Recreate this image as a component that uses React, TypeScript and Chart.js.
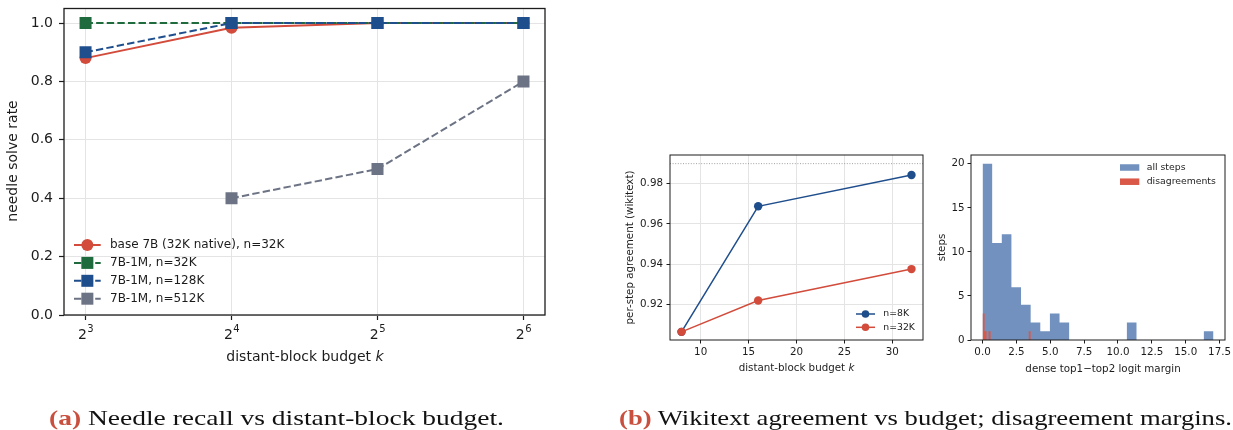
import React, { useEffect, useRef } from 'react';
import { Chart, registerables } from 'chart.js';

Chart.register(...registerables);

// ---------------- Panel (a): needle recall vs distant-block budget ----------------
const BUDGETS_A = [8, 16, 32, 64];
const BUDGET_TICK_BASE = '2';
const BUDGET_TICK_EXPONENTS = ['3', '4', '5', '6'];
const BASE_7B_N32K = [0.88, 0.984, 1.0, 1.0];
const M1_N32K = [1.0, 1.0, 1.0, 1.0];
const M1_N128K = [0.9, 1.0, 1.0, 1.0];
const M1_N512K = [null, 0.4, 0.5, 0.8];
const SERIES_A_LABELS = [
  'base 7B (32K native), n=32K',
  '7B-1M, n=32K',
  '7B-1M, n=128K',
  '7B-1M, n=512K',
];
const NEEDLE_Y_TICKS = [0, 0.2, 0.4, 0.6, 0.8, 1.0];
const NEEDLE_X_LIMITS = [7.222, 70.89];
const NEEDLE_Y_LIMITS = [0, 1.05];

// ---------------- Panel (b) left: wikitext agreement ----------------
const BUDGETS_B = [8, 16, 32];
const AGREE_N8K = [0.90625, 0.96875, 0.984375];
const AGREE_N32K = [0.90625, 0.921875, 0.9375];
const AGREE_REF = 0.99;
const AGREE_LABELS = ['n=8K', 'n=32K'];
const AGREE_X_TICKS = [10, 15, 20, 25, 30];
const AGREE_Y_TICKS = [0.92, 0.94, 0.96, 0.98];
const AGREE_X_LIMITS = [6.8, 33.2];
const AGREE_Y_LIMITS = [0.9022, 0.9943];

// ---------------- Panel (b) right: margin histogram ----------------
const ALL_STEPS_RANGE = [0, 17.05];
const ALL_STEPS_COUNTS = [20, 11, 12, 6, 4, 2, 1, 3, 2, 0, 0, 0, 0, 0, 0, 2, 0, 0, 0, 0, 0, 0, 0, 1];
const DISAGREE_RANGE = [0, 3.56];
const DISAGREE_COUNTS = [3, 1, 0, 1, 0, 0, 0, 0, 0, 0, 0, 0, 0, 0, 0, 0, 0, 0, 0, 0, 0, 0, 0, 1];
const HIST_LABELS = ['all steps', 'disagreements'];
const MARGIN_X_TICKS = [0, 2.5, 5, 7.5, 10, 12.5, 15, 17.5];
const STEPS_Y_TICKS = [0, 5, 10, 15, 20];
const MARGIN_X_LIMITS = [-0.8525, 17.9];
const STEPS_Y_LIMITS = [0, 21];

const CAPTION_A = ['(a)', ' Needle recall vs distant-block budget.'];
const CAPTION_B = ['(b)', ' Wikitext agreement vs budget; disagreement margins.'];

// ---------------- styling ----------------
const FONT = "'DejaVu Sans', sans-serif";
const INK = '#1c1c1c';
const GRID = '#e4e4e4';
const RED = '#d24b3b';
const GREEN = '#1f6b3d';
const BLUE = '#1f4e8c';
const GREY = '#6c7384';
const HIST_BLUE = '#7291be';
const HIST_RED = '#d95848';
const CAPTION_RED = '#c9503f';

type LegendItem = {
  label: string;
  color: string;
  kind: 'line' | 'patch';
  marker?: 'circle' | 'rect';
  markerSize?: number;
  dash?: number[];
  lineWidth?: number;
};

type DecorCfg = {
  frameWidth: number;
  xTitle: { parts: [string, boolean][]; cx: number; cy: number; size: number };
  yTitle: { text: string; cx: number; cy: number; size: number };
  legend: { x0: number; y0: number; dy: number; handleLen: number; patchH?: number; textX: number; size: number; items: LegendItem[] };
  under?: (chart: any) => void;
  over?: (chart: any) => void;
};

function makeDecor(cfg: DecorCfg) {
  return {
    id: 'decor',
    beforeDatasetsDraw(chart: any) {
      if (cfg.under) cfg.under(chart);
    },
    afterDraw(chart: any) {
      const { ctx, chartArea: a } = chart;
      ctx.save();
      ctx.strokeStyle = INK;
      ctx.lineWidth = cfg.frameWidth;
      ctx.strokeRect(a.left, a.top, a.right - a.left, a.bottom - a.top);

      // x title (with optional italic parts)
      ctx.fillStyle = INK;
      ctx.textBaseline = 'middle';
      ctx.textAlign = 'left';
      const fontFor = (it: boolean) => `${it ? 'italic ' : ''}${cfg.xTitle.size}px ${FONT}`;
      const widths = cfg.xTitle.parts.map(([t, it]) => {
        ctx.font = fontFor(it);
        return ctx.measureText(t).width;
      });
      const total = widths.reduce((s, w) => s + w, 0);
      let x = cfg.xTitle.cx - total / 2;
      cfg.xTitle.parts.forEach(([t, it], i) => {
        ctx.font = fontFor(it);
        ctx.fillText(t, x, cfg.xTitle.cy);
        x += widths[i];
      });

      // y title
      ctx.save();
      ctx.translate(cfg.yTitle.cx, cfg.yTitle.cy);
      ctx.rotate(-Math.PI / 2);
      ctx.textAlign = 'center';
      ctx.font = `${cfg.yTitle.size}px ${FONT}`;
      ctx.fillText(cfg.yTitle.text, 0, 0);
      ctx.restore();

      // legend
      const L = cfg.legend;
      L.items.forEach((it, i) => {
        const y = L.y0 + i * L.dy;
        if (it.kind === 'patch') {
          const h = L.patchH || 7;
          ctx.fillStyle = it.color;
          ctx.fillRect(L.x0, y - h / 2, L.handleLen, h);
        } else {
          ctx.strokeStyle = it.color;
          ctx.lineWidth = it.lineWidth || 1.5;
          ctx.setLineDash(it.dash || []);
          ctx.beginPath();
          ctx.moveTo(L.x0, y);
          ctx.lineTo(L.x0 + L.handleLen, y);
          ctx.stroke();
          ctx.setLineDash([]);
          const mx = L.x0 + L.handleLen / 2;
          const s = it.markerSize || 8;
          ctx.fillStyle = it.color;
          if (it.marker === 'rect') {
            ctx.fillRect(mx - s / 2, y - s / 2, s, s);
          } else {
            ctx.beginPath();
            ctx.arc(mx, y, s / 2, 0, Math.PI * 2);
            ctx.fill();
          }
        }
        ctx.fillStyle = INK;
        ctx.font = `${L.size}px ${FONT}`;
        ctx.textAlign = 'left';
        ctx.textBaseline = 'middle';
        ctx.fillText(it.label, L.textX, y);
      });
      ctx.restore();
      if (cfg.over) cfg.over(chart);
    },
  };
}

function fixedAxis(size: number, dir: 'x' | 'y') {
  return (s: any) => {
    if (dir === 'y') s.width = size;
    else s.height = size;
    s.paddingTop = 0;
    s.paddingBottom = 0;
    s.paddingLeft = 0;
    s.paddingRight = 0;
  };
}

function setTicks(values: number[]) {
  return (s: any) => {
    s.ticks = values.map((v) => ({ value: v }));
  };
}

function axis(opts: {
  type?: string;
  limits: number[];
  ticks: number[];
  fit: number;
  dir: 'x' | 'y';
  fontSize: number;
  tickLen: number;
  tickWidth: number;
  pad: number;
  grid: boolean;
  fmt: (v: number) => string;
}) {
  return {
    type: opts.type || 'linear',
    min: opts.limits[0],
    max: opts.limits[1],
    afterBuildTicks: setTicks(opts.ticks),
    afterFit: fixedAxis(opts.fit, opts.dir),
    title: { display: false },
    border: { display: false },
    grid: {
      display: true,
      drawOnChartArea: opts.grid,
      color: GRID,
      lineWidth: 1,
      drawTicks: true,
      tickColor: INK,
      tickLength: opts.tickLen,
      tickWidth: opts.tickWidth,
    },
    ticks: {
      autoSkip: false,
      maxRotation: 0,
      minRotation: 0,
      padding: opts.pad,
      color: INK,
      font: { family: FONT, size: opts.fontSize },
      callback: (v: any) => opts.fmt(Number(v)),
    },
  };
}

function makeNeedleChart() {
  const series = [BASE_7B_N32K, M1_N32K, M1_N128K, M1_N512K];
  const colors = [RED, GREEN, BLUE, GREY];
  const dash = [7.4, 3.2];
  return {
    type: 'line',
    data: {
      datasets: series.map((vals, i) => ({
        label: SERIES_A_LABELS[i],
        data: BUDGETS_A.map((b, j) => ({ x: b, y: vals[j] })),
        borderColor: colors[i],
        backgroundColor: colors[i],
        borderWidth: 2,
        borderDash: i === 0 ? [] : dash,
        pointStyle: i === 0 ? 'circle' : 'rect',
        pointRadius: i === 0 ? 6 : 8.5,
        pointBorderWidth: 0,
        pointBackgroundColor: colors[i],
        tension: 0,
        fill: false,
        order: 10 - i,
      })),
    },
    options: {
      animation: false,
      responsive: false,
      layout: { padding: { left: 0, top: 6, right: 15, bottom: 0 } },
      plugins: { legend: { display: false }, tooltip: { enabled: false }, title: { display: false } },
      scales: {
        x: axis({
          type: 'logarithmic', limits: NEEDLE_X_LIMITS, ticks: BUDGETS_A, fit: 65, dir: 'x',
          fontSize: 14, tickLen: 5, tickWidth: 1.2, pad: 5, grid: true,
          fmt: () => '',
        }),
        y: axis({
          limits: NEEDLE_Y_LIMITS, ticks: NEEDLE_Y_TICKS, fit: 64, dir: 'y',
          fontSize: 14, tickLen: 5, tickWidth: 1.2, pad: 6, grid: true,
          fmt: (v) => v.toFixed(1),
        }),
      },
    },
    plugins: [
      makeDecor({
        frameWidth: 1.3,
        xTitle: { parts: [['distant-block budget ', false], ['k', true]], cx: 305, cy: 357, size: 14 },
        yTitle: { text: 'needle solve rate', cx: 13.5, cy: 161, size: 14 },
        legend: {
          x0: 74, y0: 245, dy: 17.9, handleLen: 26.7, textX: 110, size: 12,
          items: SERIES_A_LABELS.map((label, i) => ({
            label,
            color: colors[i],
            kind: 'line' as const,
            marker: i === 0 ? ('circle' as const) : ('rect' as const),
            markerSize: 12,
            dash: i === 0 ? [] : dash,
            lineWidth: 2,
          })),
        },
        over: (chart: any) => {
          // power-of-two tick labels with real superscripts
          const { ctx, chartArea: a, scales } = chart;
          ctx.save();
          ctx.fillStyle = INK;
          ctx.textBaseline = 'alphabetic';
          ctx.textAlign = 'left';
          BUDGETS_A.forEach((b, i) => {
            const px = scales.x.getPixelForValue(b);
            const exp = BUDGET_TICK_EXPONENTS[i];
            ctx.font = `14px ${FONT}`;
            const wb = ctx.measureText(BUDGET_TICK_BASE).width;
            ctx.font = `10px ${FONT}`;
            const we = ctx.measureText(exp).width;
            const x0 = px - (wb + we) / 2;
            ctx.font = `14px ${FONT}`;
            ctx.fillText(BUDGET_TICK_BASE, x0, a.bottom + 23.5);
            ctx.font = `10px ${FONT}`;
            ctx.fillText(exp, x0 + wb + 0.5, a.bottom + 16.5);
          });
          ctx.restore();
        },
      }),
    ],
  };
}

function makeAgreeChart() {
  const series = [AGREE_N8K, AGREE_N32K];
  const colors = [BLUE, RED];
  return {
    type: 'line',
    data: {
      datasets: series.map((vals, i) => ({
        label: AGREE_LABELS[i],
        data: BUDGETS_B.map((b, j) => ({ x: b, y: vals[j] })),
        borderColor: colors[i],
        backgroundColor: colors[i],
        borderWidth: 1.5,
        pointStyle: 'circle',
        pointRadius: 4.2,
        pointBorderWidth: 0,
        pointBackgroundColor: colors[i],
        tension: 0,
        fill: false,
        order: 10 - i,
      })),
    },
    options: {
      animation: false,
      responsive: false,
      layout: { padding: { left: 0, top: 15, right: 10, bottom: 0 } },
      plugins: { legend: { display: false }, tooltip: { enabled: false }, title: { display: false } },
      scales: {
        x: axis({
          limits: AGREE_X_LIMITS, ticks: AGREE_X_TICKS, fit: 40, dir: 'x',
          fontSize: 10.3, tickLen: 3.5, tickWidth: 1, pad: 2.5, grid: true,
          fmt: (v) => String(v),
        }),
        y: axis({
          limits: AGREE_Y_LIMITS, ticks: AGREE_Y_TICKS, fit: 70, dir: 'y',
          fontSize: 10.3, tickLen: 3.5, tickWidth: 1, pad: 3.5, grid: true,
          fmt: (v) => v.toFixed(2),
        }),
      },
    },
    plugins: [
      makeDecor({
        frameWidth: 1,
        xTitle: { parts: [['distant-block budget ', false], ['k', true]], cx: 196.5, cy: 228.3, size: 10.3 },
        yTitle: { text: 'per-step agreement (wikitext)', cx: 30, cy: 107.5, size: 10.3 },
        legend: {
          x0: 256, y0: 174, dy: 13.3, handleLen: 19, textX: 283.3, size: 9.3,
          items: AGREE_LABELS.map((label, i) => ({
            label,
            color: colors[i],
            kind: 'line' as const,
            marker: 'circle' as const,
            markerSize: 7.6,
            lineWidth: 1.5,
          })),
        },
        under: (chart: any) => {
          const { ctx, chartArea: a, scales } = chart;
          const y = scales.y.getPixelForValue(AGREE_REF);
          ctx.save();
          ctx.strokeStyle = '#8a8a8a';
          ctx.lineWidth = 0.8;
          ctx.setLineDash([1, 1.6]);
          ctx.beginPath();
          ctx.moveTo(a.left, y);
          ctx.lineTo(a.right, y);
          ctx.stroke();
          ctx.restore();
        },
      }),
    ],
  };
}

function histPoints(range: number[], counts: number[]) {
  const n = counts.length;
  const w = (range[1] - range[0]) / n;
  const pts = counts.map((c, i) => ({ x: range[0] + i * w, y: c }));
  pts.push({ x: range[1], y: counts[n - 1] });
  return pts;
}

function makeHistChart() {
  return {
    type: 'line',
    data: {
      datasets: [
        {
          label: HIST_LABELS[0],
          data: histPoints(ALL_STEPS_RANGE, ALL_STEPS_COUNTS),
          stepped: 'before',
          fill: 'origin',
          backgroundColor: HIST_BLUE,
          borderColor: 'rgba(0,0,0,0)',
          borderWidth: 0,
          pointRadius: 0,
          order: 2,
        },
        {
          label: HIST_LABELS[1],
          data: histPoints(DISAGREE_RANGE, DISAGREE_COUNTS),
          stepped: 'before',
          fill: 'origin',
          backgroundColor: HIST_RED,
          borderColor: 'rgba(0,0,0,0)',
          borderWidth: 0,
          pointRadius: 0,
          order: 1,
        },
      ],
    },
    options: {
      animation: false,
      responsive: false,
      layout: { padding: { left: 0, top: 15, right: 8, bottom: 0 } },
      plugins: { legend: { display: false }, tooltip: { enabled: false }, title: { display: false }, filler: { propagate: false } },
      scales: {
        x: axis({
          limits: MARGIN_X_LIMITS, ticks: MARGIN_X_TICKS, fit: 40, dir: 'x',
          fontSize: 10.3, tickLen: 3.5, tickWidth: 1, pad: 2.5, grid: false,
          fmt: (v) => v.toFixed(1),
        }),
        y: axis({
          limits: STEPS_Y_LIMITS, ticks: STEPS_Y_TICKS, fit: 36, dir: 'y',
          fontSize: 10.3, tickLen: 3.5, tickWidth: 1, pad: 3, grid: false,
          fmt: (v) => String(v),
        }),
      },
    },
    plugins: [
      makeDecor({
        frameWidth: 1,
        xTitle: { parts: [['dense top1−top2 logit margin', false]], cx: 168, cy: 229, size: 10.3 },
        yTitle: { text: 'steps', cx: 7, cy: 107.5, size: 10.3 },
        legend: {
          x0: 185, y0: 27.5, dy: 14.2, handleLen: 19.3, patchH: 6.5, textX: 211.7, size: 9.3,
          items: HIST_LABELS.map((label, i) => ({
            label,
            color: i === 0 ? HIST_BLUE : HIST_RED,
            kind: 'patch' as const,
          })),
        },
      }),
    ],
  };
}

function ChartBox(props: { left: number; top: number; width: number; height: number; make: () => any }) {
  const ref = useRef<HTMLCanvasElement>(null);
  useEffect(() => {
    const chart = new Chart(ref.current as HTMLCanvasElement, props.make());
    return () => chart.destroy();
  }, []);
  return (
    <canvas
      ref={ref}
      width={props.width}
      height={props.height}
      style={{ position: 'absolute', left: props.left, top: props.top, width: props.width, height: props.height }}
    />
  );
}

export default function App() {
  return (
    <div style={{ position: 'absolute', left: 0, top: 0, width: 1233, height: 430, background: '#fff', overflow: 'hidden' }}>
      <ChartBox left={0} top={0} width={560} height={380} make={makeNeedleChart} />
      <ChartBox left={600} top={140} width={333} height={240} make={makeAgreeChart} />
      <ChartBox left={935} top={140} width={298} height={240} make={makeHistChart} />
      <svg width={1233} height={430} style={{ position: 'absolute', left: 0, top: 0, pointerEvents: 'none' }}>
        <text x={49} y={425} fontFamily="'Liberation Serif', serif" fontSize={22} fill="#111" textLength={455} lengthAdjust="spacingAndGlyphs">
          <tspan fill={CAPTION_RED} fontWeight="bold">{CAPTION_A[0]}</tspan>
          <tspan>{CAPTION_A[1]}</tspan>
        </text>
        <text x={619} y={425} fontFamily="'Liberation Serif', serif" fontSize={22} fill="#111" textLength={613} lengthAdjust="spacingAndGlyphs">
          <tspan fill={CAPTION_RED} fontWeight="bold">{CAPTION_B[0]}</tspan>
          <tspan>{CAPTION_B[1]}</tspan>
        </text>
      </svg>
    </div>
  );
}
